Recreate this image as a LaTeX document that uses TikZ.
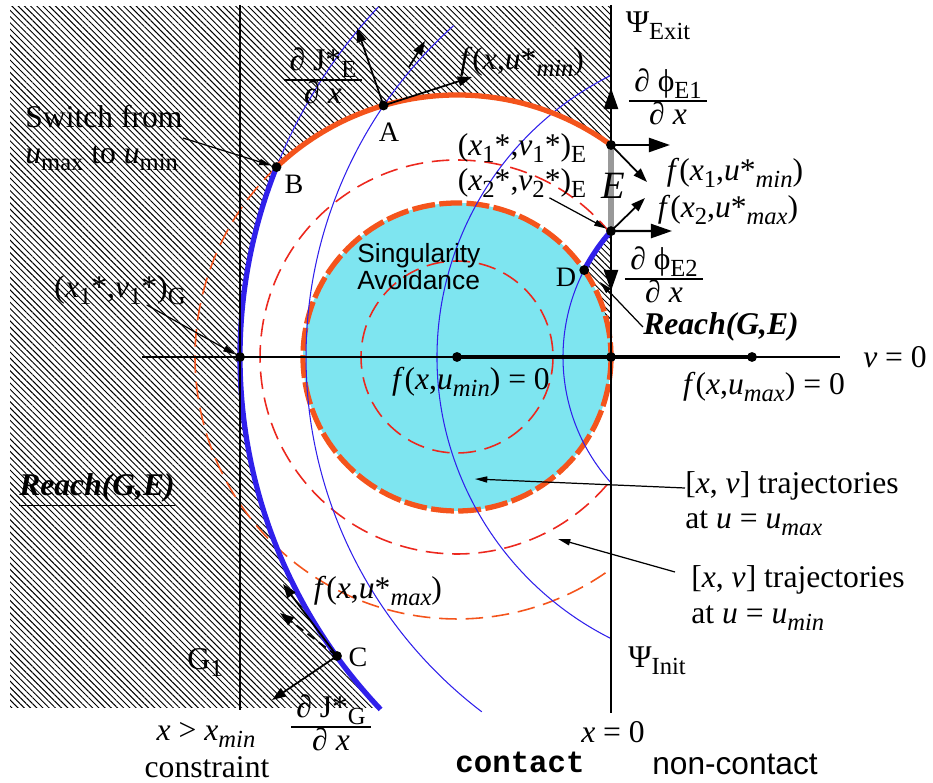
\documentclass[tikz,border=0pt]{standalone}
\usepackage{fontspec}
\setmainfont{Liberation Serif}
\setsansfont{Liberation Sans}
\setmonofont{Liberation Mono}
\usepackage{xcolor}
\usetikzlibrary{arrows.meta, patterns.meta, calc}

\definecolor{diskcyan}{RGB}{126,229,240}
\definecolor{umaxblue}{RGB}{48,32,235}
\definecolor{uminred}{RGB}{236,40,30}
\definecolor{uminorange}{RGB}{244,84,28}

\newcommand{\sbs}[1]{\raisebox{-0.22em}{\fontsize{14}{16}\selectfont #1}}
\newcommand{\pfrac}[2]{{\setlength{\arrayrulewidth}{0.8pt}\renewcommand{\arraystretch}{0.85}%
  \begin{tabular}{@{\,}c@{\,}}#1\\\hline #2\end{tabular}}}

\begin{document}
\begin{tikzpicture}[x=0.02cm, y=-0.02cm,
  lbl/.style={font=\fontsize{18}{20}\selectfont, inner sep=0pt},
  ptlbl/.style={font=\fontsize{16}{18}\selectfont, inner sep=0pt},
  ptdot/.style={circle, fill=black, inner sep=0pt, minimum size=5.6pt},
  thinblue/.style={umaxblue, line width=0.6pt},
  thickblue/.style={umaxblue, line width=3pt},
  traj/.style={uminred, line width=0.9pt, dash pattern=on 10pt off 5pt},
  bigarr/.style={line width=1.3pt, -{Triangle[length=12pt,width=8pt]}},
  vecarr/.style={line width=1pt, -{Triangle[length=8pt,width=5.5pt]}},
  ptr/.style={line width=0.7pt, -{Triangle[length=7pt,width=3.5pt]}},
]
\useasboundingbox (0,0) rectangle (933,783);

% key points
\coordinate (O) at (457,357);
\coordinate (Z) at (611,357);
\coordinate (M) at (752,357);
\coordinate (G) at (240,357);
\coordinate (A) at (383.5,105.5);
\coordinate (B) at (276.5,167.1);
\coordinate (C) at (337,656);
\coordinate (D) at (584.2,270.1);
\coordinate (E1) at (611,145);
\coordinate (E2) at (611,231.1);

% hatched reach set
\begin{scope}
  \clip (10,7) rectangle (611,707);
  \fill[pattern={Lines[angle=-45,distance=2.5pt,line width=0.55pt]}, even odd rule]
    (0,0) rectangle (700,800)
    (E1) arc[start angle=-54, end angle=-133.55, radius=262]
         arc[start angle=-158.23, end angle=-226, radius=512]
    -- (650,760) -- (650,357) -- (Z)
         arc[start angle=0, end angle=-34.35, radius=154]
         arc[start angle=-152.63, end angle=-138.24, radius=189]
    -- cycle;
\end{scope}

% singularity avoidance disk
\fill[diskcyan] (O) circle[radius=154];

% trajectories at u_min
\draw[traj] (O) circle[radius=96];
\draw[traj] (611,234.1) arc[start angle=-38.6, end angle=-321.4, radius=197];
\draw[traj, uminorange] (B) arc[start angle=-133.55, end angle=-306, radius=262];
\draw[uminorange, line width=3pt, dash pattern=on 13pt off 2.5pt] (O) circle[radius=154];

% trajectories at u_max
\draw[thinblue] (378.3,7) arc[start angle=-136.87, end angle=-158.23, radius=512];
\draw[thinblue] (453.6,25.6) arc[start angle=-132, end angle=-232.7, radius=446];
\draw[thinblue] (611,75.3) arc[start angle=-116.6, end angle=-243.4, radius=315];
\draw[thinblue] (E2) arc[start angle=-138.24, end angle=-221.76, radius=189];
\draw[thickblue] (B) arc[start angle=-158.23, end angle=-223.5, radius=512];
\draw[thickblue] (D) arc[start angle=-152.63, end angle=-138.24, radius=189];
\draw[uminorange, line width=3pt] (E1) arc[start angle=-54, end angle=-133.55, radius=262];

% axes
\coordinate (vL) at (142,357);
\coordinate (vR) at (840,357);
\coordinate (gT) at (240,5);
\coordinate (gB) at (240,710);
\coordinate (xT) at (611,5);
\coordinate (xB) at (611,713);
\draw[line width=0.6pt] (vL) -- (vR);
\draw[line width=0.6pt] (gT) -- (gB);
\draw[line width=2.3pt] (O) -- (M);
\draw[line width=1.1pt] (xT) -- (xB);
\draw[black!40, line width=3.4pt] (E1) -- (E2);

% vectors at E
\draw[bigarr] (E1) -- (611,88);
\draw[bigarr] (E1) -- (670,145);
\draw[vecarr] (E1) -- (647,182);
\draw[bigarr] (E2) -- (672,231);
\draw[vecarr] (E2) -- (645,198);
\draw[bigarr] (E2) -- (611,291);

% vectors at A and C
\draw[vecarr] (A) -- (357,28);
\draw[vecarr] (A) -- (472,77);
\draw[vecarr] (409,67) -- (425,41);
\draw[vecarr] (C) -- (283,584);
\draw[vecarr, dash pattern=on 5pt off 3pt] (C) -- (280,613);
\draw[vecarr] (C) -- (272,700);

% dots
\foreach \p in {A,B,C,D,G,E1,E2,O,Z,M}
  \node[ptdot] (dot\p) at (\p) {};

% labels
\node[lbl] (dJE) at (323,80) {\pfrac{∂ J*\sbs{E}}{∂ \textit{x}}};
\node[ptlbl] (labA) at (389,132) {A};
\node[ptlbl] (labB) at (294,184) {B};
\node[ptlbl] (labC) at (358,657) {C};
\node[ptlbl] (labD) at (566,277) {D};
\node[lbl] (fAmin) at (522,62) {\textit{f}(\textit{x},\textit{u}*\sbs{\textit{min}})};
\node[lbl] (psiE) at (658,26) {Ψ\sbs{Exit}};
\node[lbl] (dphi1) at (668,101) {\pfrac{∂ ϕ\sbs{E1}}{∂ \textit{x}}};
\node[lbl] (x1E) at (522,148) {(\textit{x}\sbs{1}*,\textit{v}\sbs{1}*)\sbs{E}};
\node[lbl] (x2E) at (522,183) {(\textit{x}\sbs{2}*,\textit{v}\sbs{2}*)\sbs{E}};
\node[font=\fontsize{22}{24}\selectfont\itshape, inner sep=0pt] (labE) at (613,186) {E};
\node[lbl] (f1min) at (735,173) {\textit{f}(\textit{x}\sbs{1},\textit{u}*\sbs{\textit{min}})};
\node[lbl] (f2max) at (728,210) {\textit{f}(\textit{x}\sbs{2},\textit{u}*\sbs{\textit{max}})};
\node[lbl] (dphi2) at (664,279) {\pfrac{∂ ϕ\sbs{E2}}{∂ \textit{x}}};
\node[lbl, font=\fontsize{18}{20}\selectfont\bfseries\itshape] (reachR) at (721,327) {Reach(G,E)};
\node[lbl] (vzero) at (895,357) {\textit{v} = 0};
\node[lbl] (fmax0) at (764,387) {\textit{f}(\textit{x},\textit{u}\sbs{\textit{max}}) = 0};
\node[lbl] (fmin0) at (471,382) {\textit{f}(\textit{x},\textit{u}\sbs{\textit{min}}) = 0};
\node[font=\fontsize{15}{15.5}\selectfont\sffamily, inner sep=0pt, align=left, anchor=north west]
  (sing) at (357,243) {Singularity\\Avoidance};
\node[lbl, align=left, anchor=west] (traj1) at (685,504)
  {[\textit{x}, \textit{v}] trajectories\\at \textit{u} = \textit{u}\sbs{\textit{max}}};
\node[lbl, align=left, anchor=west] (traj2) at (691,598)
  {[\textit{x}, \textit{v}] trajectories\\at \textit{u} = \textit{u}\sbs{\textit{min}}};
\node[lbl] (psiI) at (657,661) {Ψ\sbs{Init}};
\node[lbl] (xzero) at (613,732) {\textit{x} = 0};
\node[font=\fontsize{17.5}{19}\selectfont\ttfamily\bfseries, inner sep=0pt] (cont) at (520,762) {contact};
\node[font=\fontsize{18}{20}\selectfont\sffamily, inner sep=0pt] (noncont) at (735,764) {non-contact};
\node[lbl] (xmin) at (206,735) {\textit{x} > \textit{x}\sbs{\textit{min}}};
\node[lbl] (constr) at (207,767) {constraint};
\node[lbl] (dJG) at (331,727) {\pfrac{∂ J*\sbs{G}}{∂ \textit{x}}};
\node[lbl] (G1) at (205,663) {G\sbs{1}};
\node[lbl] (fCmax) at (378,591) {\textit{f}(\textit{x},\textit{u}*\sbs{\textit{max}})};
\node[lbl, font=\fontsize{18}{20}\selectfont\bfseries\itshape] (reachL) at (97,490) {\underline{Reach(G,E)}};
\node[lbl] (x1G) at (120,290) {(\textit{x}\sbs{1}*,\textit{v}\sbs{1}*)\sbs{G}};
\node[lbl, align=left, anchor=west] (sw) at (25,138)
  {Switch from\\\textit{u}\sbs{max} to \textit{u}\sbs{min}};

% pointers
\coordinate (inU) at (475,479);
\coordinate (inM) at (558,539);
\coordinate (sliver) at (600,282);
\draw[ptr] (sw.east) -- (dotB);
\draw[ptr] (x1G) -- (dotG);
\draw[ptr] (x2E) -- (dotE2);
\draw[ptr] (reachR.west) -- (sliver);
\draw[ptr] ($(traj1.west)+(0,-16)$) -- (inU);
\draw[ptr] ($(traj2.west)+(-16,-26)$) -- (inM);
\end{tikzpicture}
\end{document}
